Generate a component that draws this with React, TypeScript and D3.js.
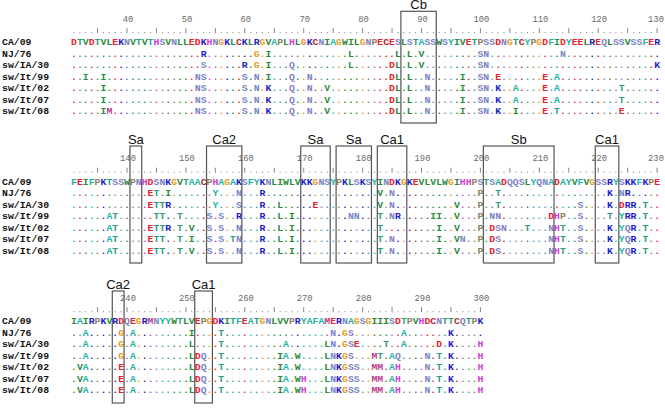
import React from "react";
import * as d3 from "d3";

// strains shown down the left side, top row is the reference
const strains = ["CA/09", "NJ/76", "sw/IA/30", "sw/It/99", "sw/It/02", "sw/It/07", "sw/It/08"];

// reference sequence, positions 31..300
const refSeq =
  "DTVDTVLEKNVTVTHSVNLLEDKHNGKLCKLRGVAPLHLGKCNIAGWILGNPECESLSTASSWSYIVETPSSDNGTCYPGDFIDYEELREQLSSVSSFER" +
  "FEIFPKTSSWPNHDSNKGVTAACPHAGAKSFYKNLIWLVKKGNSYPKLSKSYINDKGKEVLVLWGIHHPSTSADQQSLYQNADAYVFVGSSRYSKKFKPE" +
  "IAIRPKVRDQEGRMNYYWTLVEPGDKITFEATGNLVVPRYAFAMERNAGSGIIISDTPVHDCNTTCQTPK";
const firstPos = 31;

// three wrapped blocks of the alignment
const blockStart = [31, 131, 231];
const blockEnd = [130, 230, 300];

// substitutions against CA/09 (position + residue)
const nj76 = ["53R", "62G", "64I", "78L", "86L", "88L", "90V", "100S", "101N", "114N",
  "144E", "145T", "147I", "155Y", "159N", "163R", "183V", "185N", "200P", "203T", "222K", "224N", "225R",
  "233A", "239G", "241A", "251I", "256T", "275N", "277G", "278S", "287A", "295K"];
const swIA30 = ["53S", "60R", "62G", "64I", "68Q", "78L", "85D", "86L", "88L", "90V", "100S", "101N", "130K",
  "144E", "145T", "146T", "147R", "155Y", "159S", "163R", "166L", "172E", "183V", "185N", "196V", "200P", "203T",
  "217S", "222K", "224D", "225R", "226R", "228T",
  "233A", "239G", "241A", "251L", "256T", "267A", "274L", "275N", "277G", "278S", "279E", "284T", "287A", "293D", "295K", "300H"];
const swIt99 = ["33I", "36I", "52N", "53S", "60S", "62N", "64I", "68Q", "71N", "85D", "86L", "88L", "91N", "97I",
  "100S", "101N", "103E", "111E", "113A",
  "137A", "138T", "145T", "146T", "149T", "154S", "156S", "159R", "163R", "166L", "168I", "178N", "179N", "183T",
  "185N", "186R", "192I", "193I", "196V", "200P", "202N", "203N", "212D", "213H", "214P", "217S", "222T", "224Y",
  "225R", "226R", "228T",
  "233A", "239G", "241A", "251L", "252D", "253Q", "256T", "266I", "267A", "269W", "274L", "275N", "276K", "277G",
  "278S", "282M", "283T", "285A", "286Q", "291N", "293T", "295K", "300H"];
const swIt02 = ["36I", "52N", "53S", "60S", "62N", "64K", "68Q", "71N", "74V", "85D", "86L", "88L", "91N", "97I",
  "100S", "101N", "103K", "106A", "111E", "113A", "124T",
  "137A", "138T", "144E", "145T", "146T", "147R", "149T", "151V", "154S", "156S", "159N", "163R", "166L", "168I",
  "183T", "193I", "196V", "200P", "202D", "203S", "204N", "208T", "212N", "213H", "214T", "217S", "222K", "224Y",
  "225Q", "226R", "228T",
  "232V", "233A", "239E", "241A", "251L", "252D", "253Q", "256T", "266I", "267A", "269W", "274L", "275N", "276K",
  "277G", "278S", "279S", "282M", "283M", "285A", "286H", "291N", "293T", "295K", "300H"];
const swIt07 = ["36I", "52N", "53S", "60S", "62N", "64K", "68Q", "71N", "74V", "85D", "86L", "88L", "91N", "97I",
  "100S", "101N", "103K", "106A", "111E", "113A", "124T",
  "137A", "138T", "144E", "145T", "146T", "149T", "151I", "154S", "156S", "158T", "159N", "163R", "166L", "168I",
  "183T", "185N", "193I", "196V", "197N", "200P", "202D", "203S", "212N", "213H", "214T", "217S", "222K", "224Y",
  "225Q", "226R", "228T",
  "232V", "233A", "239E", "241A", "251L", "252D", "253Q", "256T", "266I", "267A", "269W", "270H", "274L", "275N",
  "276K", "277G", "278S", "279S", "282M", "283M", "285A", "286H", "291N", "293T", "295K", "300H"];
const swIt08 = ["36I", "37M", "52N", "53S", "60S", "62N", "64K", "68Q", "71N", "74V", "85D", "86L", "88L", "91N",
  "97I", "100S", "101N", "103K", "106I", "111E", "113T", "124E",
  "137A", "138T", "144E", "145T", "146T", "149T", "151V", "154S", "156S", "159N", "163R", "166L", "168I",
  "183T", "185N", "193I", "196V", "200P", "202D", "203S", "212N", "213H", "214T", "217S", "222K", "224Y",
  "225Q", "226R", "228T",
  "232V", "233A", "239E", "241A", "251L", "252D", "253Q", "256T", "266I", "267A", "269W", "270H", "274L", "275N",
  "276K", "277G", "278S", "279S", "282M", "283M", "285A", "286H", "291N", "293T", "295K", "300H"];
const variants = [[], nj76, swIA30, swIt99, swIt02, swIt07, swIt08];

// antigenic sites boxed on the alignment
const siteNames = ["Cb", "Sa", "Ca2", "Sa", "Sa", "Ca1", "Sb", "Ca1", "Ca2", "Ca1"];
const siteStart = [87, 141, 154, 170, 176, 183, 201, 220, 238, 252];
const siteEnd = [92, 142, 159, 174, 181, 187, 212, 223, 239, 254];

const aaColor: Record<string, string> = {
  D: "#e8222b", E: "#e8222b", K: "#1c1cc6", R: "#1c1cc6", H: "#d03fd2",
  N: "#7a83c6", Q: "#7a83c6", S: "#7a83c6", T: "#2f9c80",
  A: "#22b4a4", Y: "#22b4a4", F: "#22b4a4",
  V: "#2a8a3c", L: "#2a8a3c", I: "#2a8a3c", W: "#2a8a3c",
  M: "#c03c90", G: "#e89a22", C: "#b02a2a", P: "#8e7f62",
};

const W = 665, H = 410;
const cw = 5.89;
const rowTop = [41.7, 181.2, 320.7];
const rowGap = 11.55;
const boxTop = [11.3, 146, 291];
const boxBottom = [123, 263, 403];
const mono = "'Liberation Mono', 'Courier New', monospace";

function buildRow(subs: string[]) {
  const arr = refSeq.split("").map(() => ".");
  subs.forEach((s) => {
    const pos = +s.slice(0, -1);
    arr[pos - firstPos] = s.slice(-1);
  });
  return arr;
}

export default function App() {
  const rows = variants.map((v, i) => (i === 0 ? refSeq.split("") : buildRow(v)));

  return (
    <svg width={W} height={H} style={{ position: "absolute", left: 0, top: 0, background: "#fff" }}>
      {blockStart.map((bs, b) => {
        const be = blockEnd[b];
        const x = d3.scaleLinear().domain([bs, bs + 99]).range([74, 74 + 99 * cw]);
        const y = d3.scalePoint<string>().domain(strains).range([rowTop[b], rowTop[b] + rowGap * (strains.length - 1)]);
        const positions = d3.range(bs, be + 1);
        const rulerY = rowTop[b] - 8.5;
        return (
          <g key={b}>
            {positions.filter((p) => p % 10 === 0).map((p) => (
              <text key={"n" + p} x={Math.min(x(p) + 1, W - 9)} y={rowTop[b] - 20} textAnchor="middle"
                fontFamily={mono} fontSize={8.8} fill="#6a6a6a">{p}</text>
            ))}
            {positions.map((p) =>
              p % 5 === 0 ? (
                <line key={"r" + p} x1={x(p)} x2={x(p)} y1={rulerY - 5} y2={rulerY} stroke="#777" strokeWidth={0.9} />
              ) : (
                <rect key={"r" + p} x={x(p) - 0.5} y={rulerY - 1} width={1} height={1} fill="#777" />
              )
            )}
            {strains.map((s, k) => (
              <g key={s}>
                <text x={2} y={(y(s) as number) + 3.4} fontFamily={mono} fontWeight="bold" fontSize={9.8} fill="#111">{s}</text>
                {positions.map((p) => {
                  const c = rows[k][p - firstPos];
                  const col = aaColor[c === "." ? refSeq[p - firstPos] : c];
                  return (
                    <text key={p} x={x(p)} y={(y(s) as number) + 3.4} textAnchor="middle"
                      fontFamily={mono} fontWeight="bold" fontSize={9.8} fill={col}>{c}</text>
                  );
                })}
              </g>
            ))}
            {siteNames.map((name, i) => {
              if (siteStart[i] < bs || siteStart[i] > be) return null;
              const x0 = x(siteStart[i]) - cw / 2;
              const x1 = x(siteEnd[i]) + cw / 2;
              return (
                <g key={"s" + i}>
                  <rect x={x0} y={boxTop[b]} width={x1 - x0} height={boxBottom[b] - boxTop[b]}
                    fill="none" stroke="#555" strokeWidth={1.2} />
                  <text x={(x0 + x1) / 2} y={boxTop[b] - 2} textAnchor="middle"
                    fontFamily="'Liberation Sans', Arial, sans-serif" fontSize={13} fill="#111">{name}</text>
                </g>
              );
            })}
          </g>
        );
      })}
    </svg>
  );
}
